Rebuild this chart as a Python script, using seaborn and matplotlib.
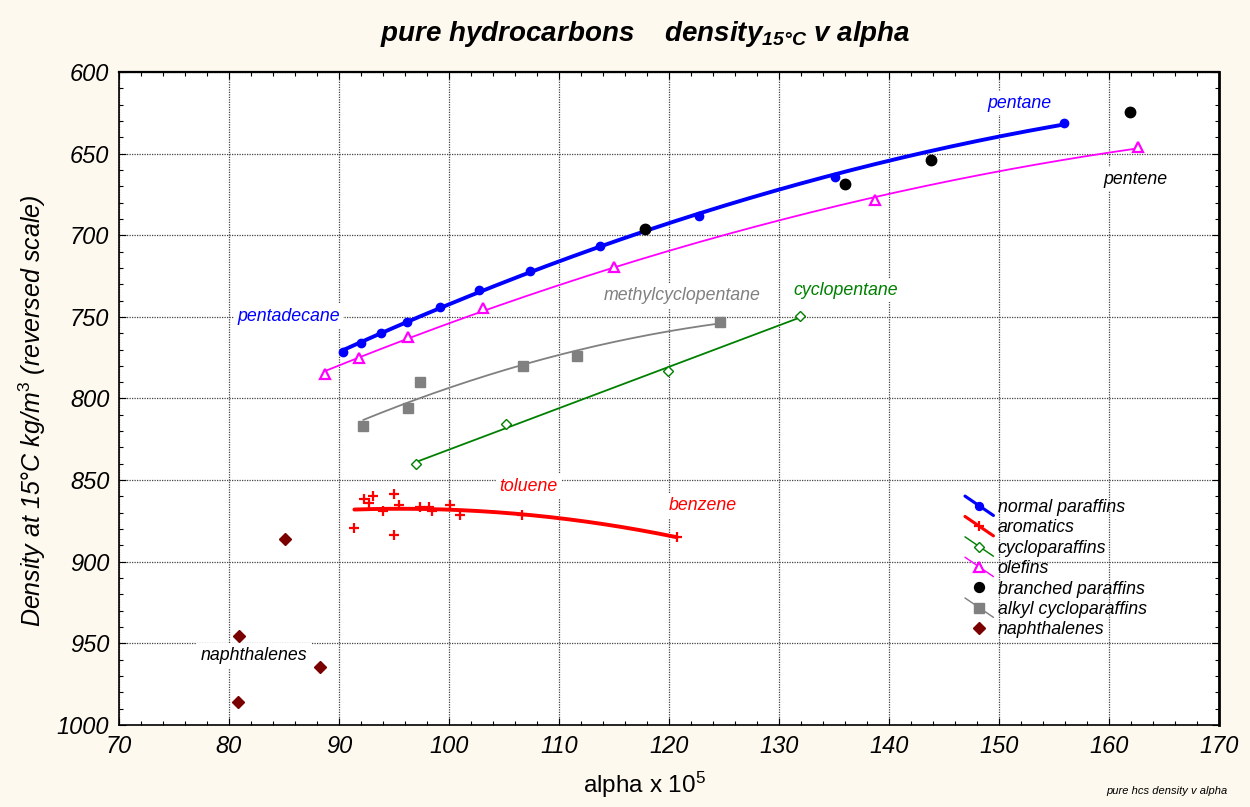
import numpy as np
import matplotlib
matplotlib.use("Agg")
import matplotlib.pyplot as plt
import seaborn as sns
from matplotlib.lines import Line2D
from matplotlib.legend_handler import HandlerBase
from matplotlib.ticker import MultipleLocator

# alpha x 10^5 and density at 15 C (kg/m3) for each hydrocarbon family
normal_x = [90.4, 92.0, 93.8, 96.2, 99.2, 102.7, 107.4, 113.7, 122.7, 135.1, 155.9]
normal_y = [771.8, 766.1, 759.6, 753.3, 743.7, 733.5, 721.6, 706.5, 688.0, 664.1, 631.4]

arom_x = [91.4, 92.3, 92.7, 93.1, 94.0, 95.0, 95.5, 95.0, 97.4, 98.2, 98.5, 100.1, 101.0, 106.6, 120.7]
arom_y = [879.6, 861.6, 863.9, 859.6, 869.2, 858.6, 865.5, 883.7, 866.7, 866.7, 868.8, 865.5, 871.6, 871.4, 884.7]

cyclo_x = [97.0, 105.2, 119.9, 131.9]
cyclo_y = [840.0, 815.7, 783.1, 749.5]

olef_x = [88.7, 91.8, 96.3, 103.1, 115.0, 138.7, 162.6]
olef_y = [784.9, 775.1, 762.2, 744.8, 719.6, 678.4, 646.1]

branch_x = [117.8, 136.0, 143.8, 161.9]
branch_y = [696.0, 668.8, 653.9, 624.7]

alkyl_x = [92.2, 96.3, 97.4, 106.7, 111.6, 124.6]
alkyl_y = [816.7, 806.1, 789.6, 779.8, 774.1, 752.9]

naph_x = [85.05, 80.9, 88.3, 80.8]
naph_y = [886.3, 945.5, 964.7, 985.9]

x_ticks = [70, 80, 90, 100, 110, 120, 130, 140, 150, 160, 170]
y_ticks = [600, 650, 700, 750, 800, 850, 900, 950, 1000]

sns.set_theme(style="white")
plt.rcParams['font.family'] = ['Liberation Sans', 'DejaVu Sans']
plt.rcParams['mathtext.fontset'] = 'custom'
plt.rcParams['mathtext.rm'] = 'Liberation Sans'
plt.rcParams['mathtext.it'] = 'Liberation Sans:italic'
plt.rcParams['mathtext.bf'] = 'Liberation Sans:bold:italic'
plt.rcParams['text.color'] = 'black'
plt.rcParams['axes.labelcolor'] = 'black'
plt.rcParams['xtick.color'] = 'black'
plt.rcParams['ytick.color'] = 'black'

fig = plt.figure(figsize=(12.5, 8.07), dpi=100, facecolor='#fef9ee')
ax = fig.add_axes([0.0952, 0.1016, 0.88, 0.8092])
ax.set_facecolor('white')


def trend(x, y, deg=2, n=200):
    coef = np.polyfit(x, y, deg)
    xs = np.linspace(min(x), max(x), n)
    return xs, np.polyval(coef, xs)


series = [
    # name, x, y, color, line width, marker, size, filled, edge width, fit
    ("normal paraffins", normal_x, normal_y, "#0000ff", 2.8, "o", 6, True, 1.0, True),
    ("aromatics", arom_x, arom_y, "#ff0000", 2.8, "+", 7, True, 1.6, True),
    ("cycloparaffins", cyclo_x, cyclo_y, "#008000", 1.3, "D", 5.5, False, 1.0, True),
    ("olefins", olef_x, olef_y, "#ff00ff", 1.3, "^", 7, False, 1.6, True),
    ("branched paraffins", branch_x, branch_y, "#000000", 0, "o", 7.5, True, 1.0, False),
    ("alkyl cycloparaffins", alkyl_x, alkyl_y, "#808080", 1.3, "s", 7.5, True, 1.0, True),
    ("naphthalenes", naph_x, naph_y, "#7a0000", 0, "D", 6, True, 1.0, False),
]

handles = []
for name, xs, ys, col, lw, mk, ms, filled, mew, fit in series:
    if fit:
        deg = 1 if name == "cycloparaffins" else 2
        fx, fy = trend(xs, ys, deg)
        sns.lineplot(x=fx, y=fy, ax=ax, color=col, linewidth=lw, sort=False,
                     estimator=None, zorder=3)
    ax.plot(xs, ys, linestyle='none', marker=mk, markersize=ms,
            markerfacecolor=(col if filled else 'white'), markeredgecolor=col,
            markeredgewidth=mew, zorder=4)
    handles.append(Line2D([], [], color=col, linewidth=lw if fit else 0,
                          linestyle='-' if fit else 'none', marker=mk,
                          markersize=ms, markeredgewidth=mew,
                          markerfacecolor=(col if filled else 'white'),
                          markeredgecolor=col, label=name))


class SlopedHandler(HandlerBase):
    def create_artists(self, legend, orig, xd, yd, w, h, fs, trans):
        x0, x1 = -xd, -xd + w
        y0, y1 = -yd + h + 2.5, -yd - 2.5
        arts = []
        if orig.get_linestyle() not in ('None', 'none', '', ' '):
            ln = Line2D([x0, x1], [y0, y1], color=orig.get_color(),
                        linewidth=orig.get_linewidth() * 0.8)
            ln.set_transform(trans)
            arts.append(ln)
        mk = Line2D([(x0 + x1) / 2], [(y0 + y1) / 2], linestyle='none',
                    marker=orig.get_marker(), markersize=orig.get_markersize() * 0.95,
                    markerfacecolor=orig.get_markerfacecolor(),
                    markeredgecolor=orig.get_markeredgecolor(),
                    markeredgewidth=orig.get_markeredgewidth())
        mk.set_transform(trans)
        arts.append(mk)
        return arts


leg = ax.legend(handles=handles, loc='upper left', bbox_to_anchor=(949 / 1250, 1 - 483 / 807),
                bbox_transform=fig.transFigure, frameon=False,
                handlelength=1.6, handletextpad=0.25, labelspacing=0.19,
                handler_map={Line2D: SlopedHandler()}, prop={'style': 'italic', 'size': 12.8})

# series name annotations
labels = [
    ("pentane", 151.9, 619.2, "#0000ff"),
    ("pentene", 162.4, 665.7, "#000000"),
    ("pentadecane", 85.4, 749.6, "#0000ff"),
    ("methylcyclopentane", 121.2, 737.1, "#808080"),
    ("cyclopentane", 136.1, 733.6, "#008000"),
    ("toluene", 107.2, 853.7, "#ff0000"),
    ("benzene", 123.1, 865.7, "#ff0000"),
    ("naphthalenes", 82.3, 957.4, "#000000"),
]
for txt, lx, ly, col in labels:
    ax.text(lx, ly, txt, color=col, fontsize=12.8, style='italic', ha='center', va='center',
            zorder=5, bbox=dict(facecolor='white', edgecolor='none', pad=2.5))

ax.set_xlim(70, 170)
ax.set_ylim(1000, 600)
ax.set_xticks(x_ticks)
ax.set_yticks(y_ticks)
ax.xaxis.set_minor_locator(MultipleLocator(2))
ax.yaxis.set_minor_locator(MultipleLocator(10))
ax.tick_params(which='both', direction='in', top=True, right=True, bottom=True, left=True,
               color='black')
ax.tick_params(which='major', length=5, width=0.8, labelsize=17, pad=7)
ax.tick_params(which='minor', length=3, width=0.8)
for lab in ax.get_xticklabels() + ax.get_yticklabels():
    lab.set_fontstyle('italic')
ax.grid(True, which='major', linestyle=(0, (1, 1)), color='#444444', linewidth=0.9)
ax.set_axisbelow(True)
for side in ax.spines.values():
    side.set_visible(True)
    side.set_color('black')
    side.set_linewidth(1.2)
ax.spines['right'].set_linewidth(2.0)
ax.spines['top'].set_linewidth(1.6)

ax.set_xlabel(r"alpha x 10$^{5}$", fontsize=17.5, color='black')
ax.xaxis.set_label_coords(0.478, -0.068)
ax.set_ylabel(r"Density at 15°C kg/m$^{3}$ (reversed scale)", fontsize=18, style='italic',
              color='black')
ax.yaxis.set_label_coords(-0.079, 0.481)
ax.yaxis.label.set_va('center')

fig.text(0.516, 0.958, r"pure hydrocarbons    density$_{\mathbf{15°C}}$ v alpha",
         ha='center', va='center', fontsize=20, fontweight='bold', style='italic')
fig.text(0.982, 0.02, "pure hcs density v alpha", ha='right', va='center', fontsize=8,
         style='italic')

fig.savefig("out.png", dpi=100, facecolor=fig.get_facecolor())
